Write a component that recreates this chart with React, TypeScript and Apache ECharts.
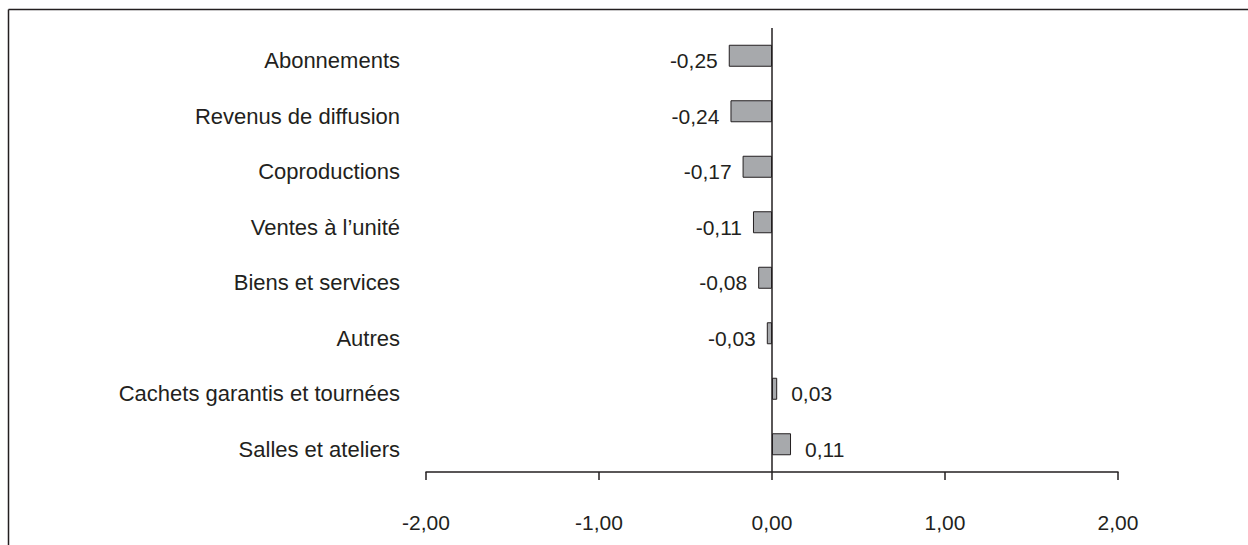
import React, { useEffect, useRef } from "react";
import * as echarts from "echarts";

const categories = [
  "Abonnements",
  "Revenus de diffusion",
  "Coproductions",
  "Ventes à l’unité",
  "Biens et services",
  "Autres",
  "Cachets garantis et tournées",
  "Salles et ateliers",
];
const values = [-0.25, -0.24, -0.17, -0.11, -0.08, -0.03, 0.03, 0.11];
const xMin = -2;
const xMax = 2;
const xStep = 1;

const INK = "#231f20";
const BAR_FILL = "#a7a9ac";
const FONT = "'Liberation Sans', Arial, sans-serif";

const fmt = (v: number) => v.toFixed(2).replace(".", ",");

export default function App() {
  const ref = useRef<HTMLDivElement>(null);

  useEffect(() => {
    if (!ref.current) return;
    const chart = echarts.init(ref.current, undefined, { renderer: "svg" });
    chart.setOption({
      animation: false,
      backgroundColor: "#ffffff",
      textStyle: { fontFamily: FONT, color: INK },
      grid: { left: 426, right: 130, top: 28, bottom: 73, containLabel: false },
      graphic: [
        {
          type: "line",
          shape: { x1: 8.5, y1: 9.5, x2: 1300, y2: 9.5 },
          style: { stroke: INK, lineWidth: 1.5 },
          silent: true,
        },
        {
          type: "line",
          shape: { x1: 8.5, y1: 9.5, x2: 8.5, y2: 600 },
          style: { stroke: INK, lineWidth: 1.5 },
          silent: true,
        },
      ],
      xAxis: {
        type: "value",
        min: xMin,
        max: xMax,
        interval: xStep,
        axisLine: { show: true, onZero: false, lineStyle: { color: INK, width: 1.5 } },
        axisTick: { show: true, length: 8, inside: false, lineStyle: { color: INK, width: 1.5 } },
        splitLine: { show: false },
        axisLabel: {
          formatter: (v: number) => fmt(v),
          color: INK,
          fontSize: 21,
          fontFamily: FONT,
          margin: 40,
        },
      },
      yAxis: {
        type: "category",
        data: categories,
        inverse: true,
        axisLine: { show: false, onZero: false },
        axisTick: { show: false },
        splitLine: { show: false },
        axisLabel: {
          margin: 26,
          formatter: (v: string) => `{c|${v}}`,
          rich: {
            c: {
              color: INK,
              fontSize: 22,
              fontFamily: FONT,
              padding: [10, 0, 0, 0],
            },
          },
        },
      },
      series: [
        {
          type: "bar",
          data: values.map((v) => ({
            value: v,
            label: {
              show: true,
              position: v < 0 ? "left" : "right",
              distance: v < 0 ? 11 : 14,
              offset: [0, 5],
              formatter: () => fmt(v),
              color: INK,
              fontSize: 21,
              fontFamily: FONT,
            },
          })),
          barWidth: 22,
          itemStyle: { color: BAR_FILL, borderColor: INK, borderWidth: 1 },
          markLine: {
            silent: true,
            symbol: "none",
            label: { show: false },
            lineStyle: { color: INK, width: 1.5, type: "solid" },
            data: [{ xAxis: 0 }],
          },
        },
      ],
    });
    return () => chart.dispose();
  }, []);

  return (
    <div
      ref={ref}
      style={{ position: "fixed", left: 0, top: 0, width: 1248, height: 545 }}
    />
  );
}
